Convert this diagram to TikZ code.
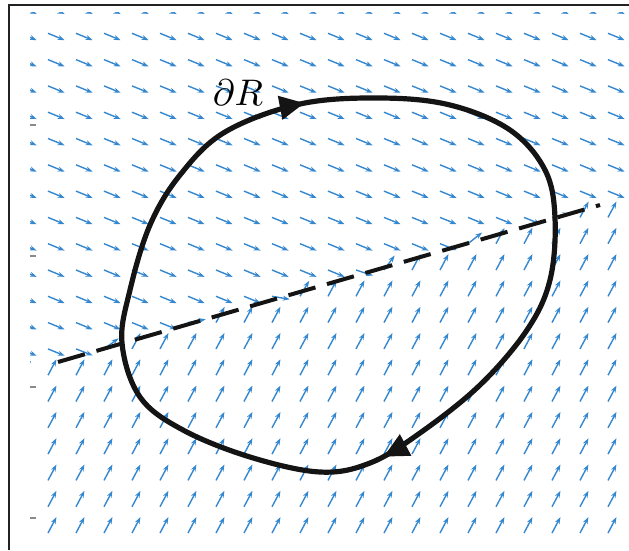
\documentclass[tikz,border=0pt]{standalone}
\usepackage{amsmath,amssymb}
\usetikzlibrary{arrows.meta,decorations.markings}
\definecolor{cfield}{HTML}{3588D0}
\definecolor{cframe}{HTML}{222222}
\definecolor{cgrey}{HTML}{8a8a8a}

\begin{document}
\begin{tikzpicture}[x=1pt,y=-1pt,
  field/.style={cfield,line width=1.4pt,-{Stealth[length=7pt,width=5pt]}},
  boundary/.style={line width=5.2pt,black!92,line join=round,
    decoration={markings,
      mark=at position 0.215 with {\arrow{Triangle[length=25pt,width=23pt]}},
      mark=at position 0.705 with {\arrow{Triangle[length=25pt,width=23pt]}}},
    postaction={decorate}},
  dashline/.style={line width=4pt,black!92,dash pattern=on 28pt off 12pt}]
  \useasboundingbox (0,0) rectangle (629,550);
  \draw[cframe,line width=1.4pt] (629,5) -| (9,550);
  % axis ticks
  \foreach \t in {125,256,387,518}
    \draw[cgrey,line width=1.2pt] (30,\t) -- (36,\t);
  % vector field
  \begin{scope}
    \clip (30,12) rectangle (629,545);
    \foreach \i in {0,...,21}
      \foreach \j in {0,...,20} {
        \pgfmathsetmacro{\px}{20+28*\i}
        \pgfmathsetmacro{\py}{7+26.3*\j}
        \pgfmathsetmacro{\sd}{(\px-58)*0.2782+(\py-362)*0.9605}
        \pgfmathsetmacro{\sc}{min(max((\sd+1)/3,-4),4)}
        \pgfmathsetmacro{\tt}{(1+tanh(\sc))/2}
        \pgfmathsetmacro{\ang}{22.4-84.4*\tt}
        \draw[field] (\px,\py) -- ++(\ang:18);
      }
  \end{scope}
  % dividing line
  \coordinate (dl) at (58,362);
  \coordinate (dr) at (600,205);
  \draw[dashline] (dl) -- (dr);
  % boundary curve
  \draw[boundary] plot[smooth cycle,tension=0.6] coordinates {
    (122,343) (130,290) (150,225) (180,175) (225,132) (300,104) (380,98)
    (450,105) (510,130) (545,170) (555,218) (550,280) (527,330) (480,385)
    (420,433) (370,463) (320,472) (250,457) (183,430) (140,397)};
  \node[scale=3.7] (lbl) at (238,93) {$\partial R$};
\end{tikzpicture}
\end{document}
